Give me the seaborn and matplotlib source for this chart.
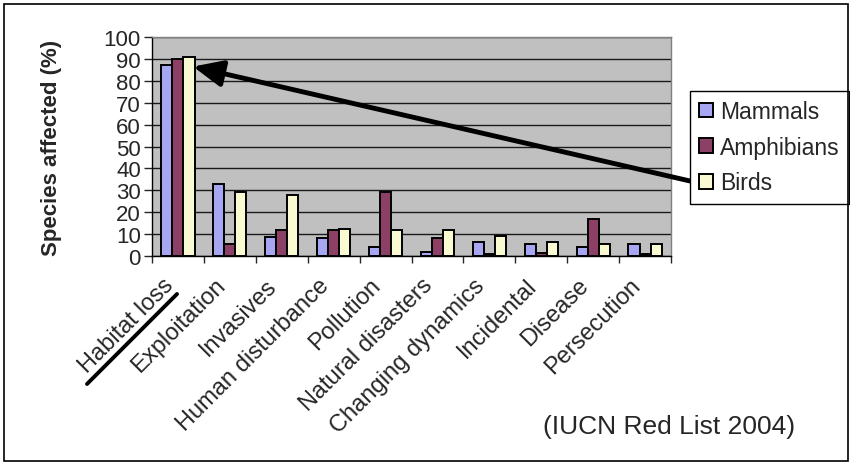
import matplotlib
matplotlib.use('Agg')
import matplotlib.pyplot as plt
import matplotlib.transforms as mtransforms
from matplotlib.patches import Rectangle
from matplotlib.lines import Line2D
import numpy as np
import pandas as pd
import seaborn as sns

# ==============================
# Data
# ==============================
threats = ["Habitat loss", "Exploitation", "Invasives", "Human disturbance", "Pollution",
           "Natural disasters", "Changing dynamics", "Incidental", "Disease", "Persecution"]
mammals = [87, 33, 8.5, 8, 4, 2, 6.5, 5.5, 4, 5.5]
amphibians = [90, 5.5, 12, 12, 29, 8, 0.7, 1.5, 17, 0.8]
birds = [91, 29, 28, 12.5, 12, 12, 9, 6.5, 5.5, 5.5]
groups = ["Mammals", "Amphibians", "Birds"]
colors = ["#9999FF", "#993366", "#FFFFCC"]

df = pd.DataFrame({
    "threat": threats * 3,
    "value": mammals + amphibians + birds,
    "group": [g for g in groups for _ in threats],
})

sns.set_style("white")
plt.rcParams['font.family'] = ['Liberation Sans', 'DejaVu Sans']

fig = plt.figure(figsize=(8.5, 4.64), dpi=100)
ax = fig.add_axes([152 / 850, 1 - 257 / 464, (671 - 152) / 850, (257 - 38) / 464])
ax.set_facecolor("#C0C0C0")

sns.barplot(data=df, x="threat", y="value", hue="group", order=threats, hue_order=groups,
            palette=colors, edgecolor="black", linewidth=1.4, width=0.64, ax=ax)

ax.set_ylim(0, 100)
ax.set_xlim(-0.5, len(threats) - 0.5)
ax.set_yticks(np.arange(0, 101, 10))
ax.yaxis.grid(True, color="#1a1a1a", linewidth=1)
ax.set_axisbelow(True)
ax.tick_params(axis="y", direction="out", length=6, width=1, labelsize=16, left=True, pad=2)

# category labels at centres, tick marks at boundaries
ax.set_xticks(range(len(threats)))
ax.set_xticklabels(threats, fontsize=17, rotation=45, ha="right", va="top", rotation_mode="anchor")
ax.tick_params(axis="x", which="major", length=0, pad=13)
ax.set_xticks(np.arange(-0.5, len(threats), 1), minor=True)
ax.tick_params(axis="x", which="minor", direction="out", length=5, width=1, bottom=True)
offset = mtransforms.ScaledTranslation(-16 / 100, 0, fig.dpi_scale_trans)
for lab in ax.get_xticklabels():
    lab.set_transform(lab.get_transform() + offset)

ax.set_xlabel("")
ax.set_ylabel("Species affected (%)", fontsize=16, fontweight="bold", labelpad=30)

for side in ["left", "bottom"]:
    ax.spines[side].set_color("black")
    ax.spines[side].set_linewidth(1)
for side in ["top", "right"]:
    ax.spines[side].set_color("#808080")
    ax.spines[side].set_linewidth(1)

# legend box on the right
leg = ax.legend(loc="upper left", bbox_to_anchor=(690 / 850, 1 - 92 / 464),
                bbox_transform=fig.transFigure, fontsize=16.5, frameon=True, fancybox=False,
                edgecolor="black", facecolor="white", framealpha=1, handlelength=0.6,
                handleheight=0.6, handletextpad=0.3, labelspacing=0.55, borderpad=0.4,
                borderaxespad=0)
leg.get_frame().set_linewidth(1)

# arrow from the legend to the habitat loss bars
ax.annotate("", xy=(0.29, 86.5), xycoords="data",
            xytext=(690 / 850, 1 - 182 / 464), textcoords="figure fraction",
            arrowprops=dict(arrowstyle="-|>,head_length=0.9,head_width=0.4",
                            mutation_scale=20, lw=3.5, color="black", shrinkA=0, shrinkB=0),
            annotation_clip=False)

# underline under "Habitat loss"
fig.add_artist(Line2D([87 / 850, 177 / 850], [1 - 385 / 464, 1 - 295 / 464],
                      color="black", lw=2.8, transform=fig.transFigure))

fig.text(543 / 850, 1 - 427 / 464, "(IUCN Red List 2004)", fontsize=19, va="center", ha="left")

# outer frame
fig.add_artist(Rectangle((4 / 850, 1 - 462 / 464), 844 / 850, 457 / 464, fill=False,
                         edgecolor="black", lw=1.2, transform=fig.transFigure))

fig.savefig("out.png", dpi=100)
